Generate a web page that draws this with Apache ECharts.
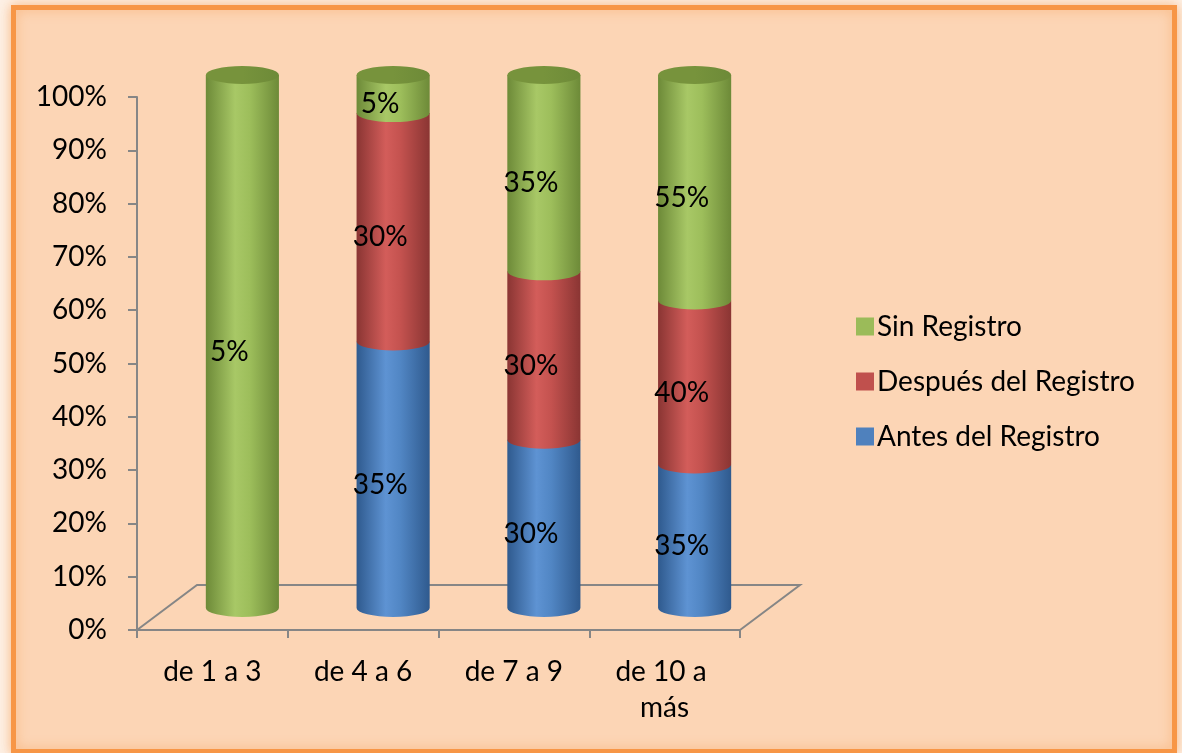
<!DOCTYPE html>
<html>
<head>
<meta charset="utf-8">
<script src="https://cdn.jsdelivr.net/npm/echarts@6/dist/echarts.min.js"></script>
<style>
html,body{margin:0;padding:0;background:#fdf1e6;}
#main{width:1182px;height:753px;}
</style>
</head>
<body>
<div id="main"></div>
<script>
// ---- data ----
const categories = ['de 1 a 3', 'de 4 a 6', 'de 7 a 9', 'de 10 a más'];
const seriesNames = ['Antes del Registro', 'Después del Registro', 'Sin Registro'];
const antes   = [0, 35, 30, 35];
const despues = [0, 30, 30, 40];
const sinReg  = [5, 5, 35, 55];
const yMin = 0, yMax = 100, yStep = 10;

// ---- styles ----
const FONT = 'Lato';
const FS = 28;
const COLORS = ['#4F81BD', '#C0504D', '#9BBB59'];
const SHADES = [
  {dark:'#2F5A8E', light:'#5E93D3', mid:'#5186C4', top:'#3C6598'},
  {dark:'#8A3533', light:'#D35D5A', mid:'#C4524F', top:'#9A403D'},
  {dark:'#6D8A38', light:'#A8C866', mid:'#9DBE5B', top:'#77933C'}
];
const CYL_DX = 30, CYL_DY = -22;     // cylinder depth offset
const FLOOR_DX = 60, FLOOR_DY = -45; // floor depth
const RY = 9;

const raw = [antes, despues, sinReg];
const totals = categories.map((_, i) => raw.reduce((s, a) => s + a[i], 0));

function buildData(k) {
  return categories.map((_, i) => {
    let start = 0;
    for (let j = 0; j < k; j++) start += raw[j][i] / totals[i] * 100;
    const end = start + raw[k][i] / totals[i] * 100;
    return [i, start, end, raw[k][i]];
  });
}

function makeRender(k) {
  const sh = SHADES[k];
  return function (params, api) {
    const cat = api.value(0), s = api.value(1), e = api.value(2), v = api.value(3);
    if (!v) return null;
    const p0 = api.coord([cat, s]);
    const p1 = api.coord([cat, e]);
    const bw = api.size([1, 0])[0] * 0.485;
    const rx = bw / 2;
    const cx = p0[0] + CYL_DX, yb = p0[1] + CYL_DY, yt = p1[1] + CYL_DY;
    const grad = {type:'linear', x:0, y:0, x2:1, y2:0, colorStops:[
      {offset:0, color:sh.dark}, {offset:0.4, color:sh.light},
      {offset:0.6, color:sh.mid}, {offset:1, color:sh.dark}]};
    const children = [{
      type:'path',
      shape:{pathData:`M${cx-rx} ${yt} L${cx-rx} ${yb} A${rx} ${RY} 0 0 0 ${cx+rx} ${yb} L${cx+rx} ${yt} Z`},
      style:{fill:grad}
    }];
    if (e >= yMax - 0.01) {
      children.push({
        type:'path',
        shape:{pathData:`M${cx-rx} ${yt} A${rx} ${RY} 0 0 1 ${cx+rx} ${yt} A${rx} ${RY} 0 0 1 ${cx-rx} ${yt} Z`},
        style:{fill:{type:'linear', x:0, y:0, x2:1, y2:0, colorStops:[
          {offset:0, color:sh.top}, {offset:0.5, color:sh.top}, {offset:1, color:sh.dark}]}}
      });
    }
    children.push({
      type:'text',
      style:{text:v + '%', x:cx - 13, y:(yb + yt) / 2 + 10, align:'center', verticalAlign:'middle',
        font:FS + 'px ' + FONT, fill:'#000'}
    });
    return {type:'group', children};
  };
}

const chart = echarts.init(document.getElementById('main'), null, {renderer:'canvas'});
const series = seriesNames.map((name, k) => ({
  name, type:'custom', renderItem: makeRender(k),
  itemStyle:{color:COLORS[k]},
  encode:{x:0, y:[1, 2]},
  data: buildData(k),
  z: 3 + k
}));

chart.setOption({
  animation:false,
  backgroundColor:'#fdf1e6',
  textStyle:{fontFamily:FONT},
  grid:{left:137, right:442, top:97, bottom:123},
  legend:{
    data:['Sin Registro', 'Después del Registro', 'Antes del Registro'],
    orient:'vertical', left:851, top:306,
    icon:'rect', itemWidth:18, itemHeight:18, itemGap:24,
    textStyle:{fontSize:FS, fontFamily:FONT, color:'#000', lineHeight:31, padding:[0,0,0,-2]}
  },
  xAxis:{
    type:'category', data:categories,
    axisLine:{lineStyle:{color:'#868686', width:2}},
    axisTick:{show:true, interval:0, length:8, lineStyle:{color:'#868686', width:2}},
    axisLabel:{interval:0, fontSize:FS, fontFamily:FONT, color:'#000', margin:24, width:130, overflow:'break', lineHeight:36}
  },
  yAxis:{
    type:'value', min:yMin, max:yMax, interval:yStep,
    axisLine:{show:true, lineStyle:{color:'#868686', width:2}},
    axisTick:{show:true, length:9, lineStyle:{color:'#868686', width:2}},
    splitLine:{show:false},
    axisLabel:{fontSize:FS, fontFamily:FONT, color:'#000', margin:30, formatter:'{value}%'}
  },
  series
});

// frame and floor
const c0 = chart.convertToPixel({xAxisIndex:0}, categories[0]);
const cN = chart.convertToPixel({xAxisIndex:0}, categories[categories.length - 1]);
const step = (cN - c0) / (categories.length - 1);
const fl = c0 - step / 2, fr = cN + step / 2;
const y0 = chart.convertToPixel({yAxisIndex:0}, yMin);
chart.setOption({
  graphic:[
    {type:'rect', z:-10, shape:{x:13.5, y:7.5, width:1161, height:744},
      style:{fill:'#FCD5B5', stroke:'#F79646', lineWidth:5, shadowBlur:12, shadowColor:'rgba(247,150,70,0.55)'}},
    {type:'polyline', z:1, shape:{points:[[fl, y0], [fl + FLOOR_DX, y0 + FLOOR_DY], [fr + FLOOR_DX, y0 + FLOOR_DY], [fr, y0]]},
      style:{stroke:'#868686', lineWidth:2, fill:null}}
  ]
});
</script>
</body>
</html>
